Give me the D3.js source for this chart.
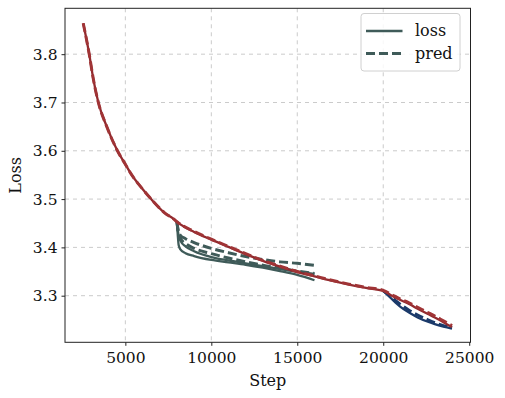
<!DOCTYPE html>
<html>
<head>
<meta charset="utf-8">
<script src="https://cdn.jsdelivr.net/npm/d3@7"></script>
<style>
  body { margin: 0; background: #fff; }
  svg { display: block; }
</style>
</head>
<body>
<div id="chart"></div>
<script>
// step / loss pairs
const mainSteps = [2550, 2900, 3130, 3430, 3920, 4540, 5000, 5370, 6000, 6500, 7300, 7800, 8000,
  9000, 10000, 11000, 12000, 13000, 14000, 15000, 16000, 17000, 18000, 19000, 20000,
  20500, 21000, 21500, 22000, 22600, 23000, 23500, 24000];
const mainLoss = [3.864, 3.800, 3.750, 3.700, 3.650, 3.600, 3.572, 3.550, 3.521, 3.500, 3.471, 3.459, 3.453,
  3.432, 3.416, 3.401, 3.386, 3.372, 3.360, 3.349, 3.340, 3.331, 3.323, 3.316, 3.310,
  3.300, 3.291, 3.283, 3.273, 3.262, 3.255, 3.245, 3.235];
const mainPred = [3.864, 3.800, 3.750, 3.700, 3.650, 3.600, 3.572, 3.550, 3.521, 3.500, 3.471, 3.459, 3.453,
  3.433, 3.417, 3.402, 3.387, 3.373, 3.361, 3.350, 3.341, 3.332, 3.324, 3.317, 3.311,
  3.302, 3.293, 3.285, 3.276, 3.265, 3.258, 3.248, 3.238];

const branchSteps = [8000, 8050, 8100, 8200, 8500, 9000, 10000, 11000, 12000, 13000, 14000, 15000, 16000];
const branchLossA = [3.453, 3.425, 3.405, 3.396, 3.388, 3.382, 3.374, 3.369, 3.364, 3.358, 3.351, 3.343, 3.332];
const branchLossB = [3.453, 3.436, 3.424, 3.414, 3.402, 3.392, 3.380, 3.373, 3.367, 3.361, 3.355, 3.350, 3.345];
const branchPredA = [3.453, 3.440, 3.432, 3.425, 3.418, 3.410, 3.398, 3.389, 3.381, 3.375, 3.370, 3.367, 3.363];
const branchPredB = [3.453, 3.438, 3.428, 3.419, 3.408, 3.398, 3.387, 3.378, 3.370, 3.363, 3.357, 3.351, 3.346];

const lateSteps = [20000, 20300, 20700, 21000, 21500, 22000, 22600, 23000, 23500, 24000];
const lateLoss = [3.310, 3.300, 3.286, 3.277, 3.265, 3.255, 3.246, 3.241, 3.236, 3.232];
const latePred = [3.310, 3.302, 3.290, 3.282, 3.270, 3.260, 3.250, 3.244, 3.238, 3.234];

const xTicks = [5000, 10000, 15000, 20000, 25000];
const yTicks = [3.3, 3.4, 3.5, 3.6, 3.7, 3.8];
const legendLabels = ['loss', 'pred'];

const W = 505, H = 398;
const m = { left: 65, right: 470.5, top: 8.3, bottom: 342.3 };
const font = '"DejaVu Serif", serif';
const green = '#3f5b59', red = '#922a2e', redDash = '#a03436', navy = '#1b3a6a';

const svg = d3.select('#chart').append('svg')
  .attr('width', W).attr('height', H);

const x = d3.scaleLinear().domain([1490, 25075]).range([m.left, m.right]);
const y = d3.scaleLinear().domain([3.2035, 3.895]).range([m.bottom, m.top]);

// Grid
const grid = svg.append('g');
grid.selectAll('line.gx').data(xTicks.filter(t => t < 25000)).enter().append('line')
  .attr('x1', d => x(d)).attr('x2', d => x(d))
  .attr('y1', m.top).attr('y2', m.bottom)
  .attr('stroke', '#cbcbcb').attr('stroke-width', 1).attr('stroke-dasharray', '4,4');
grid.selectAll('line.gy').data(yTicks).enter().append('line')
  .attr('x1', m.left).attr('x2', m.right)
  .attr('y1', d => y(d)).attr('y2', d => y(d))
  .attr('stroke', '#cbcbcb').attr('stroke-width', 1).attr('stroke-dasharray', '4,4');

const line = d3.line().x(d => x(d[0])).y(d => y(d[1])).curve(d3.curveMonotoneX);
const zip = (xs, ys) => xs.map((s, i) => [s, ys[i]]);

function draw(xs, ys, color, dashed) {
  svg.append('path')
    .datum(zip(xs, ys))
    .attr('d', line)
    .attr('fill', 'none')
    .attr('stroke', color)
    .attr('stroke-width', dashed ? 3 : 2.3)
    .attr('stroke-dasharray', dashed ? '9,4' : null)
    .attr('stroke-linecap', 'butt');
}

draw(branchSteps, branchLossB, green, false);
draw(branchSteps, branchLossA, green, false);
draw(branchSteps, branchPredB, green, true);
draw(branchSteps, branchPredA, green, true);
draw(lateSteps, lateLoss, navy, false);
draw(lateSteps, latePred, navy, true);
draw(mainSteps, mainLoss, red, false);
draw(mainSteps, mainPred, redDash, true);

// Axes
const xAxis = svg.append('g').attr('transform', `translate(0,${m.bottom})`)
  .call(d3.axisBottom(x).tickValues(xTicks).tickSize(3.5).tickPadding(6).tickFormat(d3.format('d')));
const yAxis = svg.append('g').attr('transform', `translate(${m.left},0)`)
  .call(d3.axisLeft(y).tickValues(yTicks).tickSize(3.5).tickPadding(4).tickFormat(d3.format('.1f')));
[xAxis, yAxis].forEach(a => {
  a.selectAll('text').attr('font-family', font).attr('font-size', 15.5).attr('fill', '#111');
  a.selectAll('.tick line').attr('stroke', '#222');
  a.select('.domain').remove();
});

// frame
svg.append('rect')
  .attr('x', m.left).attr('y', m.top)
  .attr('width', m.right - m.left).attr('height', m.bottom - m.top)
  .attr('fill', 'none').attr('stroke', '#222').attr('stroke-width', 1);

svg.append('text')
  .attr('x', (m.left + m.right) / 2).attr('y', 386)
  .attr('text-anchor', 'middle')
  .attr('font-family', font).attr('font-size', 16).attr('fill', '#111')
  .text('Step');
svg.append('text')
  .attr('transform', `translate(21,${(m.top + m.bottom) / 2}) rotate(-90)`)
  .attr('text-anchor', 'middle')
  .attr('font-family', font).attr('font-size', 16).attr('fill', '#111')
  .text('Loss');

// Legend
const lg = svg.append('g');
lg.append('rect')
  .attr('x', 361).attr('y', 13.5).attr('width', 99).attr('height', 57.5)
  .attr('rx', 3).attr('fill', 'rgba(255,255,255,0.85)')
  .attr('stroke', '#d0d0d0').attr('stroke-width', 1);
legendLabels.forEach((name, i) => {
  const cy = 31 + i * 22.5;
  lg.append('line')
    .attr('x1', 366).attr('x2', 402.5).attr('y1', cy).attr('y2', cy)
    .attr('stroke', green)
    .attr('stroke-width', i ? 3 : 2.3)
    .attr('stroke-dasharray', i ? '9,4' : null);
  lg.append('text')
    .attr('x', 415).attr('y', cy + 5)
    .attr('font-family', font).attr('font-size', 16).attr('fill', '#111')
    .text(name);
});
</script>
</body>
</html>
